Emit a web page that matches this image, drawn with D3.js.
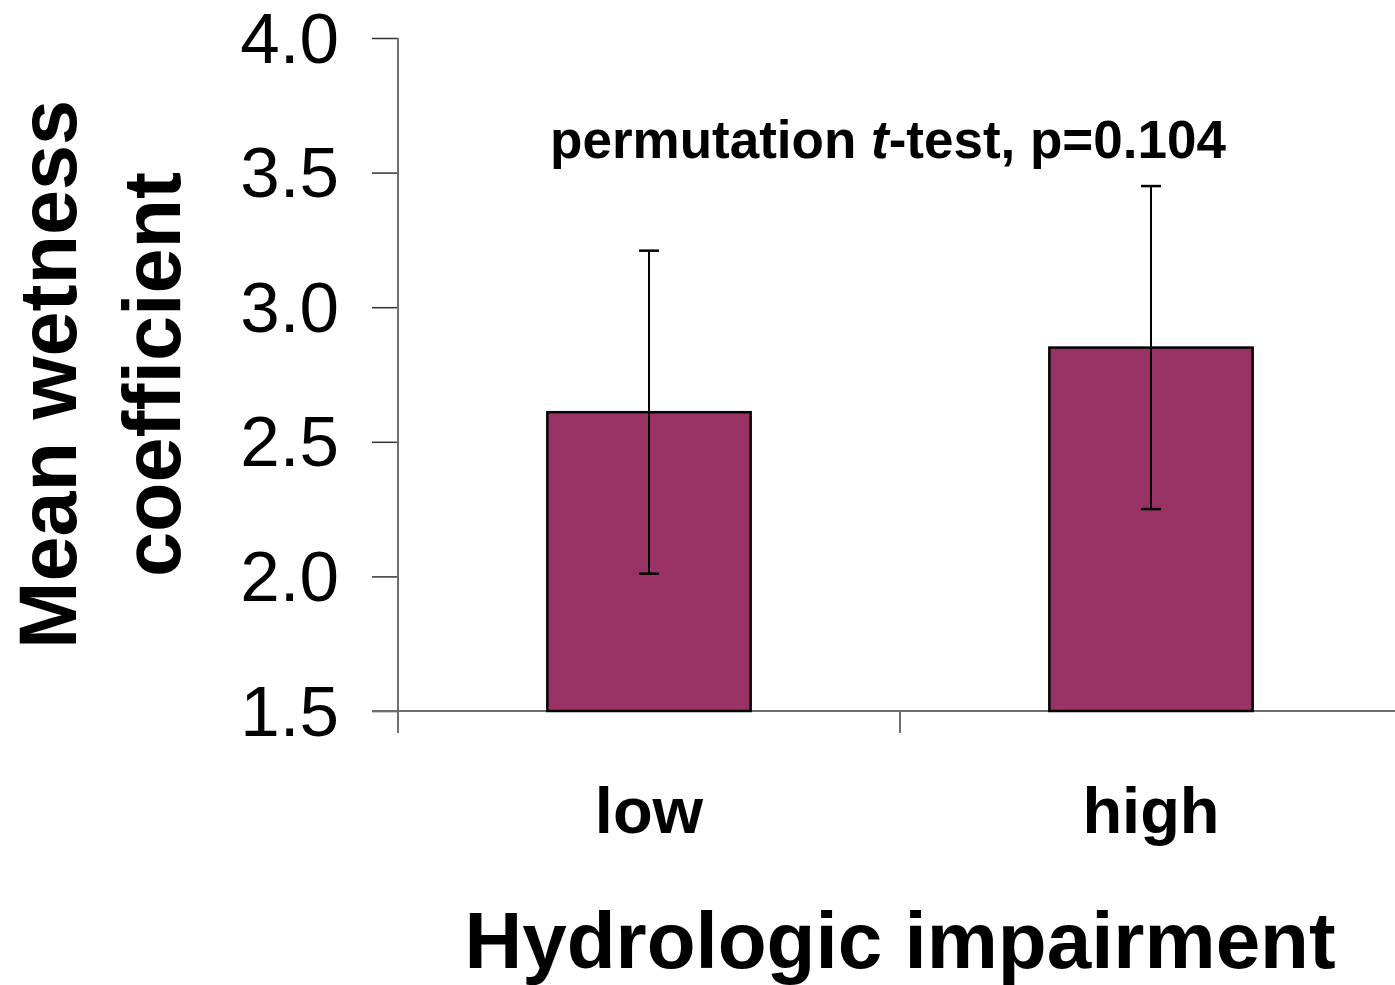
<!DOCTYPE html>
<html>
<head>
<meta charset="utf-8">
<script src="https://cdn.jsdelivr.net/npm/d3@7"></script>
<style>
  body { margin: 0; background: #fff; }
  text { font-family: "Liberation Sans", Arial, sans-serif; }
</style>
</head>
<body>
<svg id="chart" width="1395" height="985" viewBox="0 0 1395 985"></svg>
<script>
// data
var categories = ["low", "high"];
var means = [2.61, 2.85];
var errors = [0.60, 0.60];
var yTicks = [1.5, 2.0, 2.5, 3.0, 3.5, 4.0];

var plotTop = 38, plotBottom = 711, plotLeft = 398, plotRight = 1402;
var svg = d3.select("#chart");

var xScale = d3.scaleBand()
  .domain(categories)
  .range([plotLeft, plotRight])
  .paddingInner(0.595)
  .paddingOuter(0.2975);

var yScale = d3.scaleLinear()
  .domain([1.5, 4.0])
  .range([plotBottom, plotTop]);

// y axis
var yAxis = d3.axisLeft(yScale)
  .tickValues(yTicks)
  .tickSize(26)
  .tickPadding(33)
  .tickFormat(d3.format(".1f"));
var gy = svg.append("g")
  .attr("class", "y axis")
  .attr("transform", "translate(" + plotLeft + ",0)")
  .call(yAxis);
gy.select(".domain").remove();
gy.append("line")
  .attr("x1", 0).attr("x2", 0)
  .attr("y1", plotTop).attr("y2", plotBottom + 22)
  .attr("stroke", "#6e6e6e").attr("stroke-width", 2);
gy.selectAll(".tick line").attr("stroke", "#333").attr("stroke-width", 1.5);
gy.selectAll(".tick text")
  .attr("fill", "#000")
  .style("font-size", "71px")
  .attr("dy", "0.34em");

// x axis line and category separator ticks
svg.append("line")
  .attr("x1", plotLeft - 26).attr("x2", 1395)
  .attr("y1", plotBottom).attr("y2", plotBottom)
  .attr("stroke", "#6e6e6e").attr("stroke-width", 2);
var step = xScale.step();
svg.selectAll(".xsep")
  .data([plotLeft, plotLeft + step])
  .enter().append("line")
  .attr("class", "xsep")
  .attr("x1", function (d) { return d; })
  .attr("x2", function (d) { return d; })
  .attr("y1", plotBottom).attr("y2", plotBottom + 22)
  .attr("stroke", "#6e6e6e").attr("stroke-width", 2);

// bars
svg.selectAll(".bar")
  .data(categories)
  .enter().append("rect")
  .attr("class", "bar")
  .attr("x", function (d) { return xScale(d); })
  .attr("width", xScale.bandwidth())
  .attr("y", function (d, i) { return yScale(means[i]); })
  .attr("height", function (d, i) { return yScale(1.5) - yScale(means[i]); })
  .attr("fill", "#993366")
  .attr("stroke", "#000")
  .attr("stroke-width", 2.5);

// error bars
var eb = svg.selectAll(".err")
  .data(categories)
  .enter().append("g")
  .attr("class", "err");
eb.append("line")
  .attr("x1", function (d) { return xScale(d) + xScale.bandwidth() / 2; })
  .attr("x2", function (d) { return xScale(d) + xScale.bandwidth() / 2; })
  .attr("y1", function (d, i) { return yScale(means[i] + errors[i]); })
  .attr("y2", function (d, i) { return yScale(means[i] - errors[i]); })
  .attr("stroke", "#000").attr("stroke-width", 2);
[1, -1].forEach(function (s) {
  eb.append("line")
    .attr("x1", function (d) { return xScale(d) + xScale.bandwidth() / 2 - 10; })
    .attr("x2", function (d) { return xScale(d) + xScale.bandwidth() / 2 + 10; })
    .attr("y1", function (d, i) { return yScale(means[i] + s * errors[i]); })
    .attr("y2", function (d, i) { return yScale(means[i] + s * errors[i]); })
    .attr("stroke", "#000").attr("stroke-width", 2.5);
});

// category labels
svg.selectAll(".cat")
  .data(categories)
  .enter().append("text")
  .attr("class", "cat")
  .attr("x", function (d) { return xScale(d) + xScale.bandwidth() / 2; })
  .attr("y", 833)
  .attr("text-anchor", "middle")
  .style("font-size", "65px")
  .style("font-weight", "bold")
  .text(function (d) { return d; });

// axis titles
svg.append("text")
  .attr("x", 900)
  .attr("y", 968)
  .attr("text-anchor", "middle")
  .style("font-size", "80px")
  .style("font-weight", "bold")
  .text("Hydrologic impairment");

var yt = svg.append("text")
  .attr("transform", "translate(76," + (plotTop + plotBottom) / 2 + ") rotate(-90)")
  .attr("text-anchor", "middle")
  .style("font-size", "81px")
  .style("font-weight", "bold");
yt.append("tspan").attr("x", 0).attr("y", 0).text("Mean wetness");
yt.append("tspan").attr("x", 0).attr("y", 104).text("coefficient");

// annotation
var ann = svg.append("text")
  .attr("x", 888)
  .attr("y", 158)
  .attr("text-anchor", "middle")
  .style("font-size", "53px")
  .style("font-weight", "bold");
ann.append("tspan").text("permutation ");
ann.append("tspan").style("font-style", "italic").text("t");
ann.append("tspan").text("-test, p=0.104");
</script>
</body>
</html>
